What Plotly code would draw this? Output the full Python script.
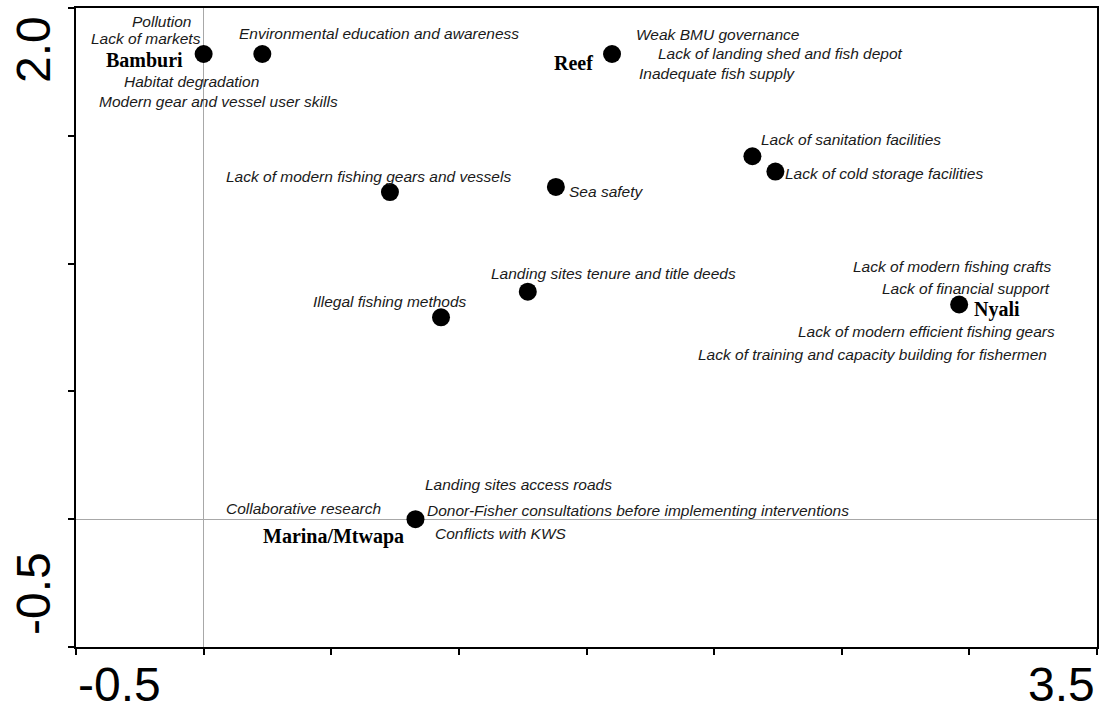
import plotly.graph_objects as go

# ---------------- data ----------------
point_names = [
    "Bamburi",
    "Environmental education and awareness",
    "Reef",
    "Lack of sanitation facilities",
    "Lack of cold storage facilities",
    "Lack of modern fishing gears and vessels",
    "Sea safety",
    "Landing sites tenure and title deeds",
    "Illegal fishing methods",
    "Nyali",
    "Marina/Mtwapa",
]
point_x = [0.00, 0.23, 1.60, 2.15, 2.24, 0.73, 1.38, 1.27, 0.93, 2.96, 0.83]
point_y = [1.82, 1.82, 1.82, 1.42, 1.36, 1.28, 1.30, 0.89, 0.79, 0.84, 0.00]

# labels: text, index of the point they belong to, whether it is a site name
label_text = [
    "Pollution", "Lack of markets", "Bamburi", "Habitat degradation",
    "Modern gear and vessel user skills",
    "Environmental education and awareness",
    "Reef", "Weak BMU governance", "Lack of landing shed and fish depot",
    "Inadequate fish supply",
    "Lack of sanitation facilities",
    "Lack of cold storage facilities",
    "Lack of modern fishing gears and vessels",
    "Sea safety",
    "Landing sites tenure and title deeds",
    "Illegal fishing methods",
    "Lack of modern fishing crafts", "Lack of financial support", "Nyali",
    "Lack of modern efficient fishing gears",
    "Lack of training and capacity building for fishermen",
    "Landing sites access roads", "Collaborative research",
    "Donor-Fisher consultations before implementing interventions",
    "Marina/Mtwapa", "Conflicts with KWS",
]
label_point = [0, 0, 0, 0, 0, 1, 2, 2, 2, 2, 3, 4, 5, 6, 7, 8,
               9, 9, 9, 9, 9, 10, 10, 10, 10, 10]
label_is_site = [t in ("Bamburi", "Reef", "Nyali", "Marina/Mtwapa") for t in label_text]

x_end_labels = ["-0.5", "3.5"]
y_end_labels = ["2.0", "-0.5"]

# ---------------- label placement (pixel offsets from the point) ----------------
label_offsets = [
    (-42, 33), (-58, 16), (-59, -6), (-12, -27), (15, -47),
    (117, 21),
    (-39, -9), (106, 20), (168, 1), (105, -19),
    (99, 17),
    (109, -2),
    (-21, 16),
    (50, -5),
    (86, 18),
    (-51, 16),
    (-7, 38), (7, 16), (38, -5), (-33, -27), (-87, -50),
    (103, 35), (-112, 11), (223, 9), (-82, -17), (86, -14),
]

fig = go.Figure()
fig.add_trace(go.Scatter(
    x=point_x, y=point_y, mode="markers",
    marker=dict(size=18, color="black"),
    hovertext=point_names, hoverinfo="text",
))

annotations = []
for txt, pi, site, (dx, dy) in zip(label_text, label_point, label_is_site, label_offsets):
    if site:
        t = f"<b>{txt}</b>"
        font = dict(family="Liberation Serif, Times New Roman, serif", size=20, color="black")
    else:
        t = f"<i>{txt}</i>"
        font = dict(family="Liberation Sans, Arial, sans-serif", size=15.5, color="#1a1a1a")
    annotations.append(dict(
        x=point_x[pi], y=point_y[pi], xref="x", yref="y",
        text=t, showarrow=False, font=font,
        xanchor="center", yanchor="middle", xshift=dx, yshift=dy,
    ))

big = dict(family="Liberation Sans, Arial, sans-serif", size=48, color="black")
# x-axis end labels
annotations.append(dict(x=0, y=0, xref="paper", yref="paper", text=x_end_labels[0],
                        showarrow=False, font=big, xanchor="left", yanchor="middle",
                        yshift=-37))
annotations.append(dict(x=1, y=0, xref="paper", yref="paper", text=x_end_labels[1],
                        showarrow=False, font=big, xanchor="right", yanchor="middle",
                        yshift=-37))
# y-axis end labels (rotated)
annotations.append(dict(x=0, y=1, xref="paper", yref="paper", text=y_end_labels[0],
                        showarrow=False, font=big, xanchor="center", yanchor="middle",
                        textangle=-90, xshift=-43, yshift=-42))
annotations.append(dict(x=0, y=0, xref="paper", yref="paper", text=y_end_labels[1],
                        showarrow=False, font=big, xanchor="center", yanchor="middle",
                        textangle=-90, xshift=-43, yshift=53))

axis_common = dict(
    showgrid=False, showticklabels=False,
    ticks="outside", ticklen=6, tickwidth=1.5, tickcolor="black",
    tickmode="linear", tick0=0, dtick=0.5,
    showline=True, linecolor="black", linewidth=2, mirror=True,
    zeroline=True, zerolinecolor="#a8a8a8", zerolinewidth=1,
)
fig.update_xaxes(range=[-0.5, 3.5], **axis_common)
fig.update_yaxes(range=[-0.5, 2.0], **axis_common)

fig.update_layout(
    width=1101, height=711,
    margin=dict(l=76, r=2, t=8, b=64),
    plot_bgcolor="white", paper_bgcolor="white",
    showlegend=False, annotations=annotations,
)

fig.write_html("out.html")
